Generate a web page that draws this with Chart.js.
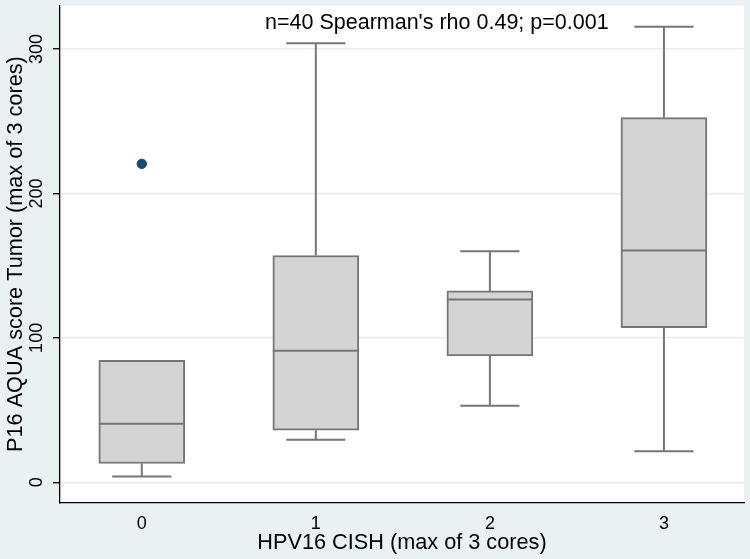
<!DOCTYPE html>
<html>
<head>
<meta charset="utf-8">
<script src="https://cdn.jsdelivr.net/npm/chart.js@4.4.1/dist/chart.umd.min.js"></script>
<style>
  html, body { margin: 0; padding: 0; background: #eaf1f3; }
  #wrap { width: 750px; height: 559px; }
</style>
</head>
<body>
<div id="wrap"><canvas id="boxChart" width="750" height="559"></canvas></div>
<script>
// HPV16 CISH groups and P16 AQUA box summaries
var groups = [0, 1, 2, 3];
var whiskerLow = [4, 29.5, 53, 21.5];
var q1 = [13, 36, 87.5, 107];
var median = [40.5, 91, 126.5, 160.5];
var q3 = [84.5, 157, 132.5, 252.5];
var whiskerHigh = [84.5, 304, 160, 315.5];
var outlierX = [0];
var outlierY = [220.5];

var xTicks = [0, 1, 2, 3];
var yTicks = [0, 100, 200, 300];
var note = "n=40 Spearman's rho 0.49; p=0.001";

var lineGrey = '#767676';
var fontName = '"Liberation Sans", Arial, sans-serif';

var boxData = groups.map(function (g, i) {
    return { x: g, y: [q1[i], q3[i]] };
});
var outlierData = outlierX.map(function (x, i) {
    return { x: x, y: outlierY[i] };
});

// white plot region on the grey-blue page
var plotBg = {
    id: 'plotBg',
    beforeDraw: function (chart) {
        var ctx = chart.ctx, a = chart.chartArea;
        ctx.save();
        ctx.fillStyle = '#eaf1f3';
        ctx.fillRect(0, 0, chart.width, chart.height);
        ctx.fillStyle = '#ffffff';
        ctx.fillRect(a.left, a.top, a.right - a.left, a.bottom - a.top);
        ctx.restore();
    }
};

// whiskers under the boxes, medians on top
var boxParts = {
    id: 'boxParts',
    beforeDatasetsDraw: function (chart) {
        var ctx = chart.ctx, xs = chart.scales.x, ys = chart.scales.y;
        ctx.save();
        ctx.strokeStyle = lineGrey;
        ctx.lineWidth = 2;
        groups.forEach(function (g, i) {
            var cx = xs.getPixelForValue(g);
            var c0 = xs.getPixelForValue(g - 0.17);
            var c1 = xs.getPixelForValue(g + 0.17);
            ctx.beginPath();
            ctx.moveTo(cx, ys.getPixelForValue(whiskerLow[i]));
            ctx.lineTo(cx, ys.getPixelForValue(q1[i]));
            ctx.moveTo(cx, ys.getPixelForValue(q3[i]));
            ctx.lineTo(cx, ys.getPixelForValue(whiskerHigh[i]));
            if (whiskerLow[i] < q1[i]) {
                ctx.moveTo(c0, ys.getPixelForValue(whiskerLow[i]));
                ctx.lineTo(c1, ys.getPixelForValue(whiskerLow[i]));
            }
            if (whiskerHigh[i] > q3[i]) {
                ctx.moveTo(c0, ys.getPixelForValue(whiskerHigh[i]));
                ctx.lineTo(c1, ys.getPixelForValue(whiskerHigh[i]));
            }
            ctx.stroke();
        });
        ctx.restore();
    },
    afterDatasetsDraw: function (chart) {
        var ctx = chart.ctx, ys = chart.scales.y;
        var meta = chart.getDatasetMeta(0);
        ctx.save();
        ctx.strokeStyle = lineGrey;
        ctx.lineWidth = 2;
        meta.data.forEach(function (bar, i) {
            var half = bar.width / 2;
            var y = ys.getPixelForValue(median[i]);
            ctx.beginPath();
            ctx.moveTo(bar.x - half, y);
            ctx.lineTo(bar.x + half, y);
            ctx.stroke();
        });
        ctx.restore();
    },
    afterDraw: function (chart) {
        var ctx = chart.ctx, xs = chart.scales.x, ys = chart.scales.y;
        ctx.save();
        ctx.fillStyle = '#000';
        ctx.font = '21.5px ' + fontName;
        ctx.textAlign = 'center';
        ctx.textBaseline = 'middle';
        ctx.fillText(note, xs.getPixelForValue(1.695), ys.getPixelForValue(318));
        ctx.restore();
    }
};

new Chart(document.getElementById('boxChart'), {
    type: 'bar',
    data: {
        datasets: [{
            type: 'bar',
            data: boxData,
            backgroundColor: '#d4d4d4',
            borderColor: lineGrey,
            borderWidth: 2,
            borderSkipped: false,
            barThickness: 86
        }, {
            type: 'scatter',
            data: outlierData,
            backgroundColor: '#1a476f',
            borderColor: '#1a476f',
            pointRadius: 4.7,
            pointHoverRadius: 4.7
        }]
    },
    options: {
        responsive: false,
        animation: false,
        layout: { padding: { top: 5, right: 6, left: 0, bottom: 0 } },
        plugins: {
            legend: { display: false },
            tooltip: { enabled: false }
        },
        scales: {
            x: {
                type: 'linear',
                offset: false,
                min: -0.47,
                max: 3.46,
                afterBuildTicks: function (scale) {
                    scale.ticks = xTicks.map(function (v) { return { value: v }; });
                },
                afterFit: function (scale) {
                    scale.height = 56.5;
                    scale.paddingLeft = 0;
                    scale.paddingRight = 0;
                },
                grid: { display: false, drawTicks: false, offset: false },
                border: { display: true, color: '#000', width: 1.3 },
                ticks: {
                    color: '#000',
                    padding: 11,
                    maxRotation: 0,
                    font: { family: fontName, size: 18 }
                },
                title: {
                    display: true,
                    text: 'HPV16 CISH (max of 3 cores)',
                    color: '#000',
                    font: { family: fontName, size: 21.7 },
                    padding: { top: 0, bottom: 3 }
                }
            },
            y: {
                min: -14,
                max: 330,
                afterBuildTicks: function (scale) {
                    scale.ticks = yTicks.map(function (v) { return { value: v }; });
                },
                afterFit: function (scale) {
                    scale.width = 60;
                    scale.paddingTop = 0;
                    scale.paddingBottom = 0;
                },
                grid: {
                    color: '#e6eef0',
                    lineWidth: 1.5,
                    drawTicks: true,
                    tickLength: 7,
                    tickColor: '#000',
                    tickWidth: 1.3
                },
                border: { display: true, color: '#000', width: 1.3 },
                ticks: {
                    color: '#000',
                    minRotation: 90,
                    maxRotation: 90,
                    crossAlign: 'center',
                    padding: 1,
                    font: { family: fontName, size: 18 }
                },
                title: {
                    display: true,
                    text: 'P16 AQUA score Tumor (max of 3 cores)',
                    color: '#000',
                    font: { family: fontName, size: 21.7 },
                    padding: { top: 3, bottom: 0 }
                }
            }
        }
    },
    plugins: [plotBg, boxParts]
});
</script>
</body>
</html>
